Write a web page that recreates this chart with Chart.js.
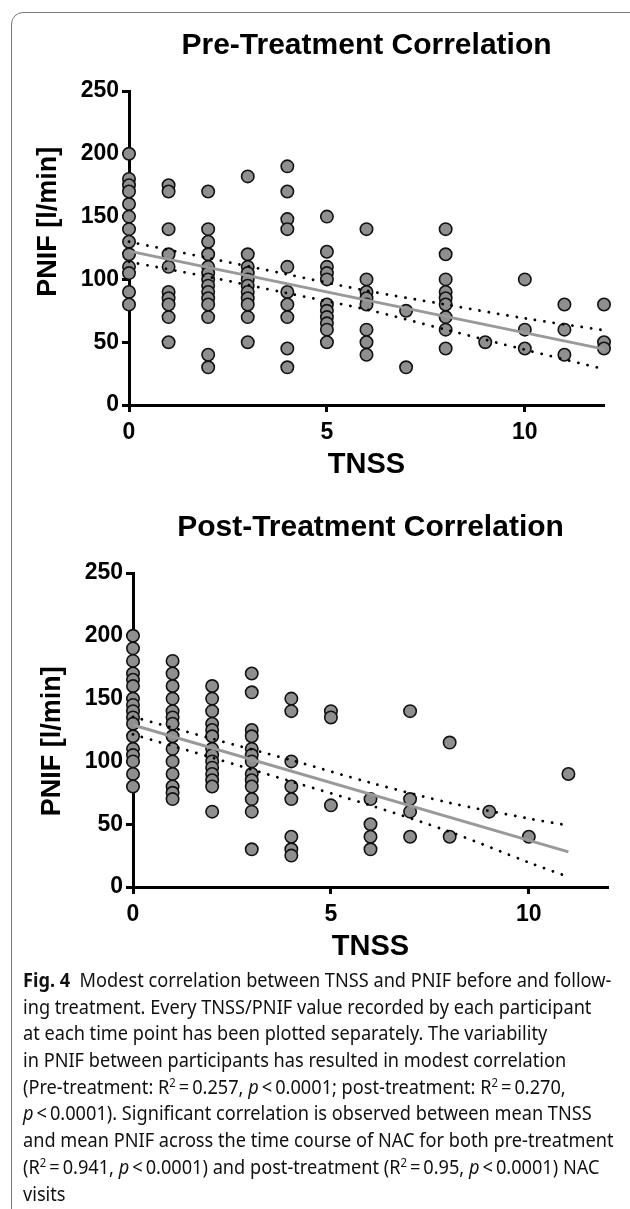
<!DOCTYPE html>
<html>
<head>
<meta charset="utf-8">
<script src="https://cdn.jsdelivr.net/npm/chart.js@4.4.1/dist/chart.umd.min.js"></script>
<style>
  body { margin: 0; background: #fff; width: 630px; height: 1209px; overflow: hidden; position: relative; }
  #frame { position: absolute; left: 11px; top: 12px; width: 700px; height: 1300px;
           border: 1.5px solid #777; border-top-left-radius: 12px; }
  canvas { position: absolute; left: 0; }
  #c1 { top: 0; }
  #c2 { top: 482px; }
  #caption { position: absolute; left: 23px; top: 967px; font-family: "Noto Sans", sans-serif;
             font-size: 19px; line-height: 26.7px; color: #111; white-space: nowrap;
             transform-origin: 0 0; }
  #caption div { white-space: nowrap; height: 26.7px; }
  #caption sup { font-size: 0.62em; line-height: 0; vertical-align: 0.6em; }
</style>
</head>
<body>
<div id="frame"></div>
<canvas id="c1" width="630" height="490"></canvas>
<canvas id="c2" width="630" height="490"></canvas>
<div id="caption">
  <div><b>Fig. 4</b>&nbsp; Modest correlation between TNSS and PNIF before and follow-</div>
  <div>ing treatment. Every TNSS/PNIF value recorded by each participant</div>
  <div>at each time point has been plotted separately. The variability</div>
  <div>in PNIF between participants has resulted in modest correlation</div>
  <div>(Pre-treatment: R<sup>2</sup>&thinsp;=&thinsp;0.257, <i>p</i>&thinsp;&lt;&thinsp;0.0001; post-treatment: R<sup>2</sup>&thinsp;=&thinsp;0.270,</div>
  <div><i>p</i>&thinsp;&lt;&thinsp;0.0001). Significant correlation is observed between mean TNSS</div>
  <div id="widest">and mean PNIF across the time course of NAC for both pre-treatment</div>
  <div>(R<sup>2</sup>&thinsp;=&thinsp;0.941, <i>p</i>&thinsp;&lt;&thinsp;0.0001) and post-treatment (R<sup>2</sup>&thinsp;=&thinsp;0.95, <i>p</i>&thinsp;&lt;&thinsp;0.0001) NAC</div>
  <div>visits</div>
</div>
<script>
// TNSS score for each column of points
const tnssLevels = [0, 1, 2, 3, 4, 5, 6, 7, 8, 9, 10, 11, 12];

// PNIF readings (l/min) per TNSS score, pre-treatment
const prePnif = [
  [200, 180, 175, 170, 160, 150, 140, 130, 120, 110, 105, 90, 80],
  [175, 170, 140, 120, 110, 90, 85, 80, 70, 50],
  [170, 140, 130, 120, 110, 105, 100, 95, 90, 85, 80, 70, 40, 30],
  [182, 120, 110, 105, 100, 95, 90, 85, 80, 70, 50],
  [190, 170, 148, 140, 110, 90, 80, 70, 45, 30],
  [150, 122, 110, 105, 100, 80, 75, 70, 65, 60, 50],
  [140, 100, 90, 85, 80, 60, 50, 40],
  [75, 30],
  [140, 120, 100, 90, 85, 80, 70, 60, 45],
  [50],
  [100, 60, 45],
  [80, 60, 40],
  [80, 50, 45]
];

// post-treatment
const postPnif = [
  [200, 190, 180, 170, 165, 160, 150, 145, 140, 135, 130, 120, 110, 105, 100, 90, 80],
  [180, 170, 160, 150, 140, 135, 130, 120, 110, 100, 90, 80, 75, 70],
  [160, 150, 140, 130, 125, 120, 110, 105, 100, 95, 90, 85, 80, 60],
  [170, 155, 125, 120, 110, 105, 100, 90, 85, 80, 70, 60, 30],
  [150, 140, 100, 80, 70, 40, 30, 25],
  [140, 135, 65],
  [70, 50, 40, 30],
  [140, 70, 60, 40],
  [115, 40],
  [60],
  [40],
  [90]
];

// regression lines and 95% bands
const preFitX = [0, 12];
const preFitY = [122.5, 44.5];
const preBandX = [0, 2, 4, 6, 8, 10, 12];
const preUpper = [130, 117, 104, 91, 80, 69, 59.5];
const preLower = [114, 102, 89, 76, 60, 44, 28.5];

const postFitX = [0, 11];
const postFitY = [129, 28];
const postBandX = [0, 2, 4, 6, 8, 10, 11];
const postUpper = [135.5, 118, 101, 83, 67, 54.5, 49];
const postLower = [121.5, 103, 84, 65, 44, 19.5, 8];

const xTicks = [0, 5, 10];
const yTicks = [0, 50, 100, 150, 200, 250];

const fam = "Liberation Sans";

function toPoints(levels, groups) {
    let pts = [];
    groups.forEach((vals, i) => vals.forEach(v => pts.push({x: levels[i], y: v})));
    return pts;
}

function pairs(xs, ys) {
    return xs.map((x, i) => ({x: x, y: ys[i]}));
}

function bandSet(xs, ys) {
    return {
        data: pairs(xs, ys), showLine: true, pointRadius: 0, borderColor: '#000',
        borderWidth: 2.8, borderDash: [0.1, 9.3], borderCapStyle: 'round',
        tension: 0.3, clip: false, order: 0
    };
}

function correlationChart(id, title, yTitle, points, fitX, fitY, bandX, upper, lower, padLeft) {
    const axisLine = {display: true, color: '#000', width: 3};
    const tickMarks = {drawOnChartArea: false, drawTicks: true, tickLength: 7, tickWidth: 3, tickColor: '#000'};
    const tickFont = {family: fam, size: 23, weight: 'bold'};
    const config = {
        type: 'scatter',
        data: {
            datasets: [
                bandSet(bandX, upper),
                bandSet(bandX, lower),
                {
                    data: pairs(fitX, fitY), showLine: true, pointRadius: 0,
                    borderColor: '#999', borderWidth: 3, clip: false, order: 1
                },
                {
                    data: points, pointRadius: 6.2, pointBorderWidth: 1.6,
                    backgroundColor: '#8f8f8f', borderColor: '#111', clip: false, order: 2
                }
            ]
        },
        options: {
            responsive: false,
            animation: false,
            layout: {padding: {left: padLeft, right: 56 - padLeft, top: 0, bottom: 0}},
            plugins: {
                legend: {display: false},
                tooltip: {enabled: false},
                title: {
                    display: true, text: title, color: '#000', fullSize: false,
                    font: {family: fam, size: 30, weight: 'bold'},
                    padding: {top: 28, bottom: 27}
                }
            },
            scales: {
                x: {
                    type: 'linear', min: 0, max: 12,
                    afterBuildTicks: s => { s.ticks = xTicks.map(v => ({value: v})) },
                    afterFit: s => { s.height = 85 },
                    border: axisLine,
                    grid: tickMarks,
                    ticks: {color: '#000', padding: 7, maxRotation: 0, font: tickFont},
                    title: {display: true, text: 'TNSS', color: '#000',
                            font: {family: fam, size: 29, weight: 'bold'}, padding: {top: 0, bottom: 8}}
                },
                y: {
                    type: 'linear', min: 0, max: 250,
                    afterBuildTicks: s => { s.ticks = yTicks.map(v => ({value: v})) },
                    afterFit: s => { s.width = 129 - 30 },
                    border: axisLine,
                    grid: tickMarks,
                    ticks: {color: '#000', padding: 3, font: tickFont},
                    title: {display: true, text: yTitle, color: '#000',
                            font: {family: fam, size: 27, weight: 'bold'}, padding: {top: 2, bottom: 0}}
                }
            }
        }
    };
    new Chart(document.getElementById(id).getContext('2d'), config);
}

const nb = '\u00a0';
correlationChart('c1', 'Pre-Treatment Correlation', nb.repeat(7) + 'PNIF [l/min]',
    toPoints(tnssLevels, prePnif), preFitX, preFitY, preBandX, preUpper, preLower, 30);
correlationChart('c2', 'Post-Treatment Correlation', 'PNIF [l/min]' + nb.repeat(3),
    toPoints(tnssLevels, postPnif), postFitX, postFitY, postBandX, postUpper, postLower, 34);

// squeeze caption to the width of the printed lines
const cap = document.getElementById('caption');
const w = document.getElementById('widest').scrollWidth;
cap.style.transform = 'scaleX(' + (591 / w) + ')';
</script>
</body>
</html>
